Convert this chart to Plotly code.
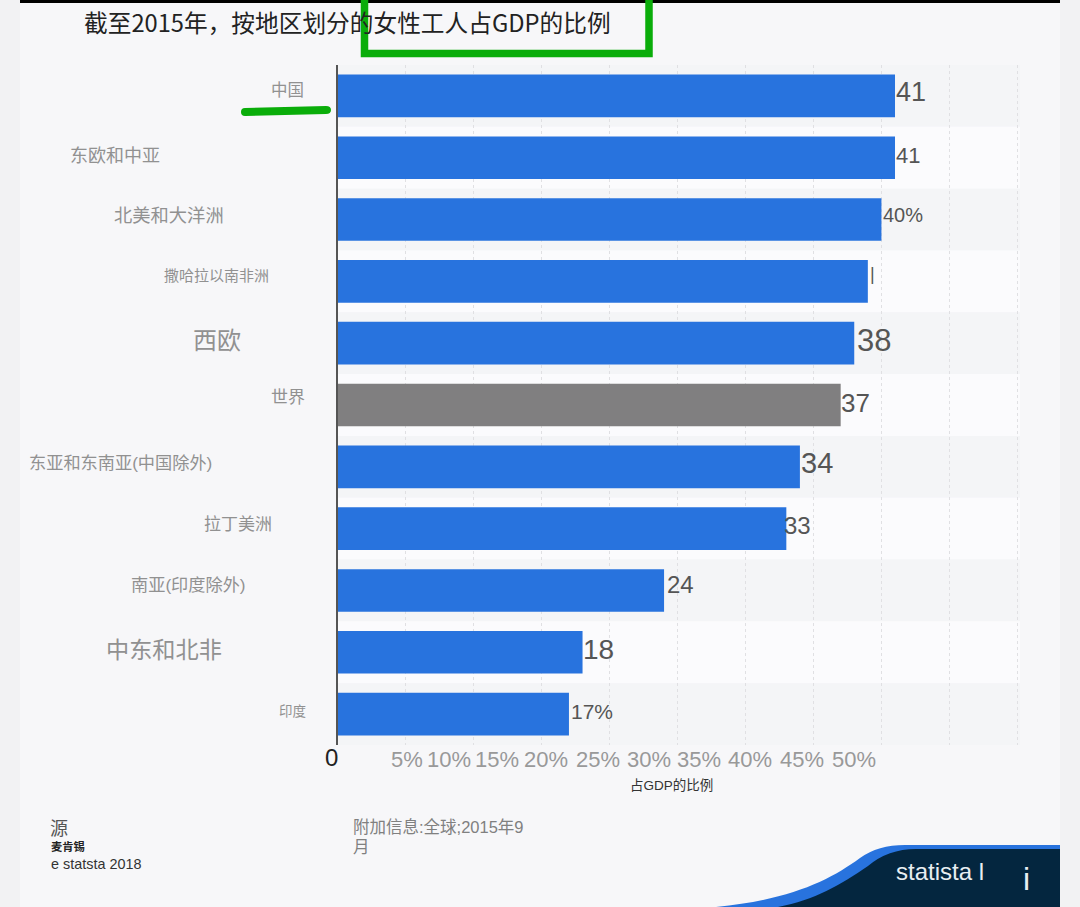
import plotly.graph_objects as go

FONT = "Liberation Sans, Noto Sans CJK SC"
TITLE_FONT = "Noto Sans CJK SC"
W, H = 1080, 907
# 绘图区像素范围
L, R, T, B = 338, 1020, 65, 745
X_MAX = 50.2

regions = ["中国", "东欧和中亚", "北美和大洋洲", "撒哈拉以南非洲", "西欧", "世界",
           "东亚和东南亚(中国除外)", "拉丁美洲", "南亚(印度除外)", "中东和北非", "印度"]
values = [41, 41, 40, 39, 38, 37, 34, 33, 24, 18, 17]
value_labels = ["41", "41", "40%", "|", "38", "37", "34", "33", "24", "18", "17%"]
tick_labels = ["5%", "10%", "15%", "20%", "25%", "30%", "35%", "40%", "45%", "50%"]

# 标签的位置和字号（原图里每个标签都不一样）
region_x = [287, 115, 169, 216, 217, 288, 120, 238, 188, 164, 292]
region_y = [90, 156, 215, 275, 340, 397, 463, 524, 585, 650, 711]
region_size = [16.5, 18, 18.3, 15, 24, 17, 17.2, 17, 17.2, 23.2, 13.5]
value_size = [27, 22, 20, 18, 31, 26, 29, 24, 24, 28, 21]
value_y = [92, 156, 215, 274, 340, 403, 463, 525, 584, 649, 711]
value_shift = [1, 1, 2, 2, 3, 0, 1, -2, 3, 0, 2]
tick_x = [407, 449, 497, 546, 598, 649, 699, 750, 802, 854]

colors = ["#807f80" if r == "世界" else "#2873de" for r in regions]


def px(x):
    return (x - L) / (R - L)


def py(y):
    return (B - y) / (B - T)


def label(text, x, y, size, color, anchor="center", family=FONT):
    return dict(text=text, x=px(x), y=py(y), xref="paper", yref="paper", showarrow=False, borderpad=0, borderwidth=0,
                xanchor=anchor, yanchor="middle", font=dict(size=size, color=color, family=family))


def box(x0, y0, x1, y1, fill):
    return dict(type="rect", xref="paper", yref="paper", x0=px(x0), x1=px(x1), y0=py(y0), y1=py(y1),
                fillcolor=fill, line_width=0, layer="below")


def path(points, fill, layer="above"):
    d = ""
    for cmd, coords in points:
        d += cmd + " ".join(f"{px(x):.5f},{py(y):.5f}" for x, y in coords) + " "
    return dict(type="path", xref="paper", yref="paper", path=d + "Z", fillcolor=fill, line_width=0, layer=layer)


fig = go.Figure(go.Bar(x=values, y=regions, orientation="h", marker=dict(color=colors, line_width=0),
                       width=0.69, hoverinfo="skip"))

# 背景、条纹、绿色标注、右下角的 logo
shapes = [box(20, 0, 1060, H, "#f7f7f9"), box(20, 0, 1060, 3, "#000000")]
for i in range(len(regions)):
    shapes.append(dict(type="rect", xref="x", yref="y", x0=0, x1=X_MAX, y0=i - 0.5, y1=i + 0.5, line_width=0, layer="below",
                       fillcolor="#f4f5f7" if i % 2 == 0 else "#fbfbfd"))
shapes.append(dict(type="rect", xref="paper", yref="paper", x0=px(364.5), x1=px(649), y0=py(-4), y1=py(53.5),
                   line=dict(color="#0aad0a", width=7.5), layer="above"))
shapes.append(path([("M", [(245, 108)]), ("L", [(326, 106)]), ("Q", [(331, 106), (331, 110)]),
                    ("Q", [(331, 114), (326, 114)]), ("L", [(245, 116)]), ("Q", [(241, 116), (241, 112)]),
                    ("Q", [(241, 108), (245, 108)])], "#0aad0a"))
shapes.append(path([("M", [(716, 907)]), ("C", [(790, 900), (830, 880), (860, 858)]),
                    ("Q", [(878, 845), (905, 845)]), ("L", [(1060, 845)]), ("L", [(1060, 907)])], "#2873de"))
shapes.append(path([("M", [(778, 907)]), ("C", [(815, 900), (840, 885), (868, 866)]),
                    ("Q", [(888, 849), (916, 849)]), ("L", [(1060, 849)]), ("L", [(1060, 907)])], "#04263f"))

annotations = [label("截至2015年，按地区划分的女性工人占GDP的比例", 84, 22, 23.7, "#222222", "left", TITLE_FONT)]
for r, x, y, s in zip(regions, region_x, region_y, region_size):
    annotations.append(label(r, x, y, s, "#919191"))
for v, t, s, y, dx in zip(values, value_labels, value_size, value_y, value_shift):
    # 数值标签跟着条形的长度走
    annotations.append(dict(text=t, x=v, y=py(y), xref="x", yref="paper", xshift=dx, showarrow=False, xanchor="left",
                            borderpad=0, borderwidth=0, yanchor="middle",
                            font=dict(size=s, color="#555555", family=FONT)))
annotations.append(label("0", 331, 757, 24, "#222222"))
for t, x in zip(tick_labels, tick_x):
    annotations.append(label(t, x, 759, 22, "#999999"))
annotations += [
    label("占GDP的比例", 671, 785, 13.5, "#333333"),
    label("源", 50, 829, 18, "#555555", "left"),
    label("<b>麦肯锡</b>", 51, 847, 11.3, "#222222", "left"),
    label("e statsta 2018", 51, 864, 14.4, "#333333", "left"),
    label("附加信息:全球;2015年9", 353, 827, 16.5, "#808080", "left"),
    label("月", 353, 847, 16.5, "#808080", "left"),
    label("statista l", 896, 871, 24, "#e8eef2", "left"),
    label("i", 1026, 879, 32, "#e8eef2"),
]

fig.update_layout(
    width=W, height=H, margin=dict(l=L, r=W - R, t=T, b=H - B),
    paper_bgcolor="#f2f2f3", plot_bgcolor="rgba(0,0,0,0)",
    showlegend=False, shapes=shapes, annotations=annotations,
    font=dict(family=FONT),
    xaxis=dict(range=[0, X_MAX], dtick=5, showticklabels=False, showgrid=True, griddash="dot", gridcolor="#e0e0e3",
               gridwidth=1, zeroline=False, showline=False, fixedrange=True),
    yaxis=dict(autorange="reversed", showticklabels=False, showgrid=False, zeroline=False, fixedrange=True,
               showline=True, linecolor="#555555", linewidth=2),
)

fig.write_html("out.html", config={"displayModeBar": False},
               post_script="document.body.style.margin='0';document.body.style.overflow='hidden';")
